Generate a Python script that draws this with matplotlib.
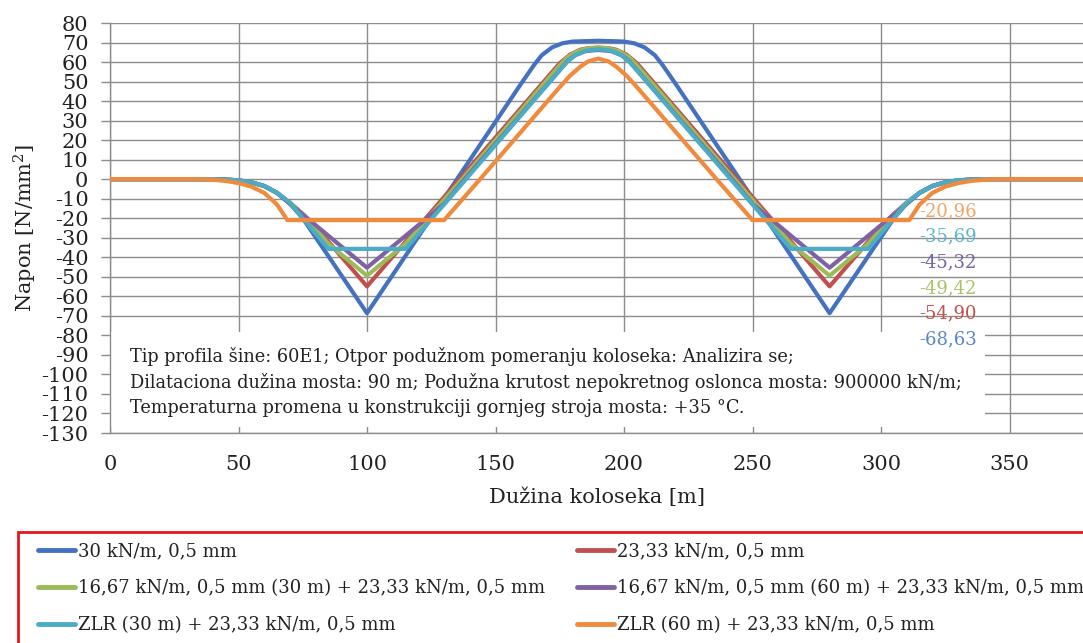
import matplotlib
matplotlib.use('Agg')
import matplotlib.pyplot as plt
from matplotlib.patches import Rectangle

plt.rcParams['font.family'] = 'DejaVu Serif'
plt.rcParams['mathtext.fontset'] = 'dejavuserif'
plt.rcParams['axes.unicode_minus'] = False

# series (x in m, stress in N/mm2)
labels = ['30 kN/m, 0,5 mm',
          '23,33 kN/m, 0,5 mm',
          '16,67 kN/m, 0,5 mm (30 m) + 23,33 kN/m, 0,5 mm',
          '16,67 kN/m, 0,5 mm (60 m) + 23,33 kN/m, 0,5 mm',
          'ZLR (30 m) + 23,33 kN/m, 0,5 mm',
          'ZLR (60 m) + 23,33 kN/m, 0,5 mm']
colors = ['#4472C0', '#C0504D', '#9BBB59', '#7F62A3', '#4BACC6', '#F08A3C']

x_blue = [0, 40, 45, 50, 55, 60, 65, 70, 75, 100, 135, 160, 165, 168, 172, 176, 180, 190,
          200, 204, 208, 212, 215, 220, 245, 280, 305, 310, 315, 320, 325, 330, 335, 340, 400]
y_blue = [0, 0, -0.2, -0.6, -1.6, -3.5, -7, -12.5, -20, -68.63, 0, 49, 58.5, 63.5, 67.5, 69.6, 70.5, 70.9,
          70.5, 69.6, 67.5, 63.5, 58.5, 49, 0, -68.63, -20, -12.5, -7, -3.5, -1.6, -0.6, -0.2, 0, 0]

x_red = [0, 40, 45, 50, 55, 60, 65, 70, 75, 80, 100, 136, 170, 175, 179, 183, 186, 190,
         194, 197, 201, 205, 210, 244, 280, 300, 305, 310, 315, 320, 325, 330, 335, 340, 400]
y_red = [0, 0, -0.2, -0.6, -1.6, -3.5, -7, -12, -17.8, -24.4, -54.9, 0, 51.8, 59.4, 63.8, 66.3, 67.1, 67.4,
         67.1, 66.3, 63.8, 59.4, 51.8, 0, -54.9, -24.4, -17.8, -12, -7, -3.5, -1.6, -0.6, -0.2, 0, 0]

x_green = [0, 40, 45, 50, 55, 60, 65, 70, 75, 85, 100, 115, 137, 170, 175, 178, 182, 186, 190,
           194, 198, 202, 205, 210, 243, 265, 280, 295, 305, 310, 315, 320, 325, 330, 335, 340, 400]
y_green = [0, 0, -0.2, -0.6, -1.6, -3.5, -7, -12, -17.9, -33.1, -49.42, -33.1, 0, 50.7, 58.3, 62.5, 65.6, 67, 67.3,
           67, 65.6, 62.5, 58.3, 50.7, 0, -33.1, -49.42, -33.1, -17.9, -12, -7, -3.5, -1.6, -0.6, -0.2, 0, 0]

x_purple = [0, 40, 45, 50, 55, 60, 65, 70, 100, 130, 138, 170, 175, 178, 181, 185, 190,
            195, 199, 202, 205, 210, 242, 250, 280, 310, 315, 320, 325, 330, 335, 340, 400]
y_purple = [0, 0, -0.2, -0.6, -1.6, -3.5, -7, -12.65, -45.32, -12.65, 0, 48.3, 55.9, 60.5, 63.5, 65.6, 66.2,
            65.6, 63.5, 60.5, 55.9, 48.3, 0, -12.65, -45.32, -12.65, -7, -3.5, -1.6, -0.6, -0.2, 0, 0]

x_teal = [0, 40, 45, 50, 55, 60, 65, 70, 75, 85, 115, 138.5, 170, 175, 178, 181, 185, 190,
          195, 199, 202, 205, 210, 241.5, 265, 295, 305, 310, 315, 320, 325, 330, 335, 340, 400]
y_teal = [0, 0, -0.2, -0.6, -1.6, -3.5, -7, -12, -20, -35.69, -35.69, 0, 48.1, 55.8, 60.3, 63.5, 65.8, 66.6,
          65.8, 63.5, 60.3, 55.8, 48.1, 0, -35.69, -35.69, -20, -12, -7, -3.5, -1.6, -0.6, -0.2, 0, 0]

x_orange = [0, 35, 40, 45, 50, 55, 60, 65, 69, 130, 144, 170, 175, 179, 183, 186, 190,
            194, 197, 201, 205, 210, 236, 250, 311, 315, 320, 325, 330, 335, 340, 345, 400]
y_orange = [0, 0, -0.3, -0.9, -2, -3.8, -7, -13, -20.96, -20.96, 0, 39.6, 47.2, 53, 57.6, 60.3, 61.8,
            60.3, 57.6, 53, 47.2, 39.6, 0, -20.96, -20.96, -13, -7, -3.8, -2, -0.9, -0.3, 0, 0]

# minimum values written at the right, top to bottom
min_values = [-20.96, -35.69, -45.32, -49.42, -54.90, -68.63]
min_colors = ['#F4A466', '#5FB6CC', '#7A64A0', '#A8C466', '#C0504D', '#5A86C6']

info_text = ('Tip profila šine: 60E1; Otpor podužnom pomeranju koloseka: Analizira se;\n'
             'Dilataciona dužina mosta: 90 m; Podužna krutost nepokretnog oslonca mosta: 900000 kN/m;\n'
             'Temperaturna promena u konstrukciji gornjeg stroja mosta: +35 °C.')

fig = plt.figure(figsize=(10.83, 6.43), dpi=100)
ax = fig.add_axes([0.10157, 0.32659, 0.94922, 0.63764])

series = [(x_blue, y_blue), (x_red, y_red), (x_green, y_green),
          (x_purple, y_purple), (x_teal, y_teal), (x_orange, y_orange)]
lines = []
for (xs, ys), lab, col in zip(series, labels, colors):
    ln, = ax.plot(xs, ys, color=col, lw=3, label=lab, zorder=3, solid_capstyle='round')
    lines.append(ln)

ax.set_xlim(0, 400)
ax.set_ylim(-130, 80)
ax.set_xticks(range(0, 351, 50))
ax.set_yticks(range(-130, 81, 10))
ax.set_axisbelow(True)
ax.grid(True, color='#8C8C8C', lw=1.0)
for s in ['top', 'right']:
    ax.spines[s].set_visible(False)
for s in ['left', 'bottom']:
    ax.spines[s].set_color('#8C8C8C')
    ax.spines[s].set_linewidth(1.0)
ax.tick_params(axis='y', length=6.5, width=1.0, color='#8C8C8C', pad=9, labelsize=15, labelcolor='#222222')
ax.tick_params(axis='x', length=0, pad=16, labelsize=15, labelcolor='#222222')

ax.set_ylabel('Napon [N/mm$^2$]', fontsize=15, color='#222222')
ax.yaxis.set_label_coords(-0.0827, 0.5)
ax.yaxis.label.set_va('center')
ax.set_xlabel('Dužina koloseka [m]', fontsize=15, color='#222222')
ax.xaxis.set_label_coords(0.474, -0.156)
ax.xaxis.label.set_va('center')

# white box with the input data
ax.add_patch(Rectangle((0.4, -127), 340, 48.6, facecolor='white', edgecolor='none', zorder=2))
ax.text(7.8, -104, info_text, fontsize=12.8, color='#222222', ha='left', va='center',
        linespacing=1.5, zorder=4)

for i, (v, c) in enumerate(zip(min_values, min_colors)):
    ax.text(315, -16.4 - 13.1 * i, f'{v:.2f}'.replace('.', ','), color=c, fontsize=13,
            ha='left', va='center', zorder=4)

# legend in a red frame below the chart
fig.patches.append(Rectangle((18 / 1083, -0.1), 1.2, 1.1 - 532 / 643, transform=fig.transFigure,
                             facecolor='white', edgecolor='#E8141B', lw=2))
order = [0, 2, 4, 1, 3, 5]
fig.legend([lines[i] for i in order], [labels[i] for i in order], loc='upper left',
           bbox_to_anchor=(38 / 1083, 1 - 542 / 643), ncol=2, frameon=False, fontsize=13,
           borderpad=0, borderaxespad=0, handlelength=2.05, handletextpad=0.17,
           labelspacing=1.05, columnspacing=1.75, labelcolor='#222222')
for h in fig.legends[0].legend_handles:
    h.set_linewidth(3.5)

fig.savefig('out.png', dpi=100)
